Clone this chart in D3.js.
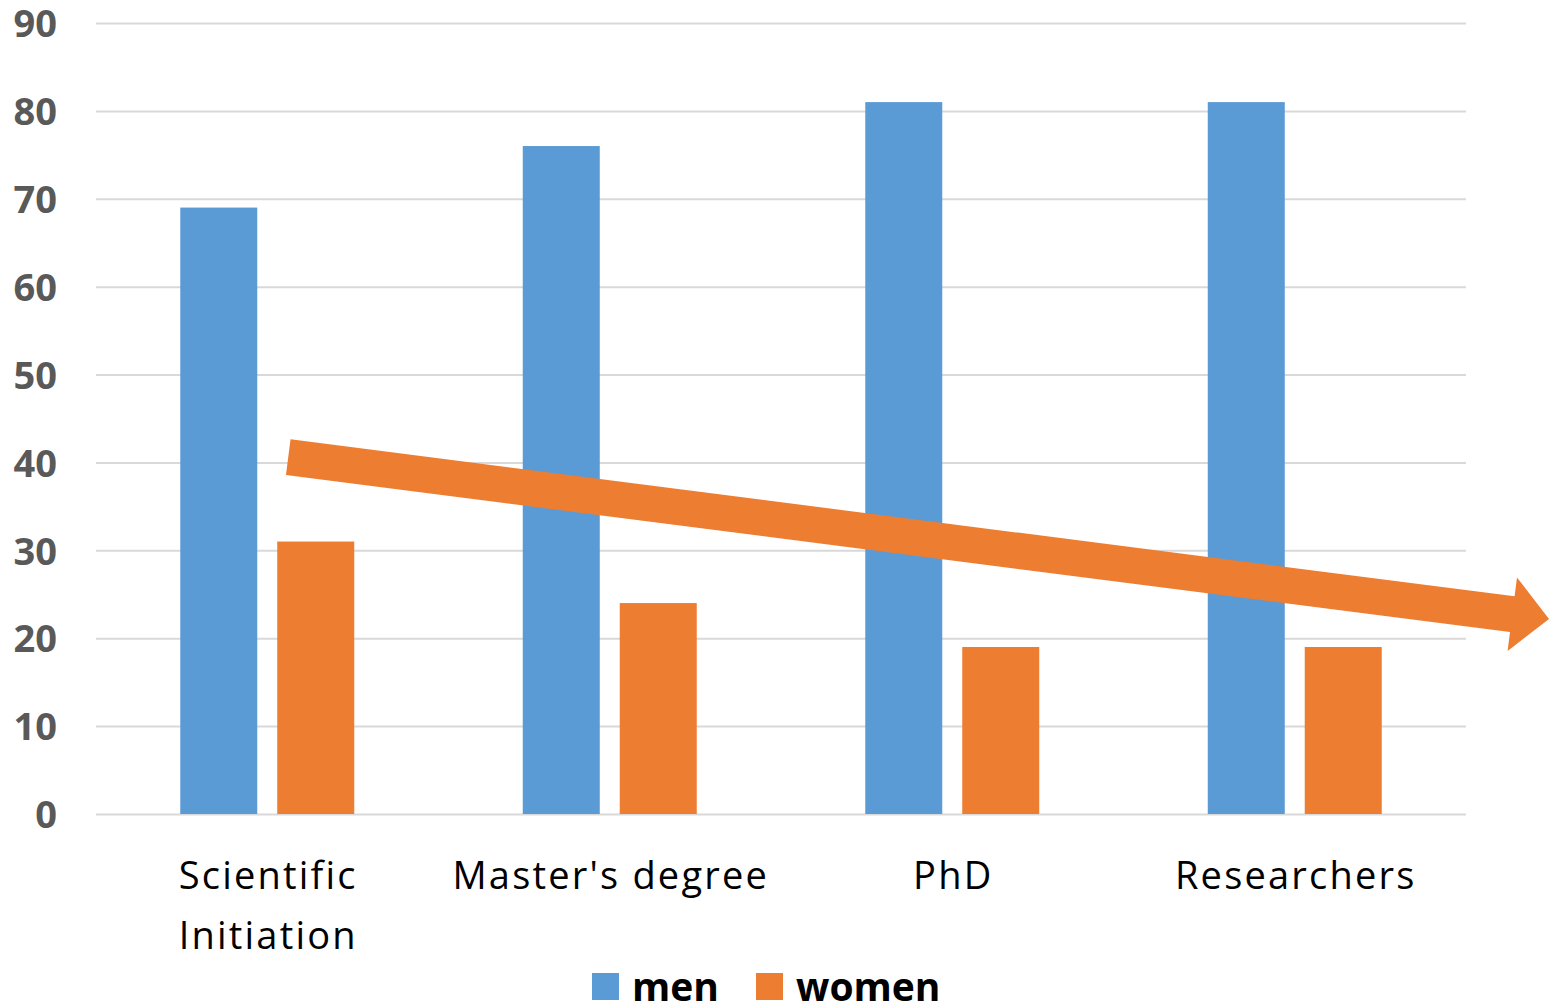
<!DOCTYPE html>
<html>
<head>
<meta charset="utf-8">
<script src="https://cdn.jsdelivr.net/npm/d3@7"></script>
<style>
  html, body { margin: 0; padding: 0; background: #fff; overflow: hidden; }
  svg { display: block; }
</style>
</head>
<body>
<svg id="chart" width="1549" height="1006"></svg>
<script>
// Share of men and women at each academic stage (%)
const categories = ["Scientific Initiation", "Master's degree", "PhD", "Researchers"];
const categoryLines = [["Scientific", "Initiation"], ["Master's degree"], ["PhD"], ["Researchers"]];
const seriesNames = ["men", "women"];
const menValues = [69, 76, 81, 81];
const womenValues = [31, 24, 19, 19];
const yTicks = [0, 10, 20, 30, 40, 50, 60, 70, 80, 90];
const titleText = "Distribution by gender (%)";
// Trend arrow endpoints, in axis units (start and end of the arrow's centre line)
const trendStart = { value: 40.6 };
const trendEnd = { value: 22.2 };

const colors = { men: "#5B9BD5", women: "#ED7D31" };
const W = 1549, H = 1006;
const plot = { left: 96, right: 1466, top: 23, bottom: 814 };

const svg = d3.select("#chart");

const x = d3.scaleBand().domain(categories).range([plot.left, plot.right]).paddingInner(0.492).paddingOuter(0.246);
const xs = d3.scaleBand().domain(seriesNames).range([0, x.bandwidth()]).paddingInner(0.206);
const y = d3.scaleLinear().domain([0, 90]).range([plot.bottom, plot.top]);

// Title (mostly above the visible area)
svg.append("text")
  .attr("x", 1067).attr("y", -9)
  .attr("text-anchor", "end")
  .attr("font-family", "Open Sans, sans-serif")
  .attr("font-weight", "bold")
  .attr("font-size", 40)
  .attr("fill", "#000")
  .text(titleText);

// Gridlines and value axis
const yAxis = d3.axisLeft(y).tickValues(yTicks).tickSize(-(plot.right - plot.left)).tickPadding(39);
const yg = svg.append("g").attr("transform", `translate(${plot.left},0)`).call(yAxis);
yg.select(".domain").remove();
yg.selectAll(".tick line").attr("stroke", "#d9d9d9").attr("stroke-width", 2);
yg.selectAll(".tick text")
  .attr("font-family", "Open Sans, sans-serif")
  .attr("font-weight", "bold")
  .attr("font-size", 38)
  .attr("fill", "#595959")
  .attr("dy", "0.36em");

// Bars
const rows = categories.map((c, i) => ({ category: c, men: menValues[i], women: womenValues[i] }));
const groups = svg.append("g").selectAll("g").data(rows).join("g")
  .attr("transform", d => `translate(${x(d.category)},0)`);
groups.selectAll("rect")
  .data(d => seriesNames.map(s => ({ series: s, value: d[s] })))
  .join("rect")
  .attr("x", d => xs(d.series))
  .attr("width", xs.bandwidth())
  .attr("y", d => y(d.value))
  .attr("height", d => y(0) - y(d.value))
  .attr("fill", d => colors[d.series]);

// Category labels
const xl = svg.append("g");
categories.forEach((c, i) => {
  const cx = x(c) + x.bandwidth() / 2;
  const t = xl.append("text")
    .attr("x", cx)
    .attr("y", 889)
    .attr("text-anchor", "middle")
    .attr("font-family", "Open Sans, sans-serif")
    .attr("font-size", 38)
    .attr("letter-spacing", 2.2)
    .attr("fill", "#000");
  categoryLines[i].forEach((line, j) => {
    t.append("tspan").attr("x", cx + 1).attr("dy", j === 0 ? 0 : 60).text(line);
  });
});

// Downward trend arrow
const x0 = x(categories[0]) + x.bandwidth() / 2 + 21;
const x1 = W;
const p0 = [x0, y(trendStart.value)];
const p1 = [x1, y(trendEnd.value)];
const len = Math.hypot(p1[0] - p0[0], p1[1] - p0[1]);
const ang = Math.atan2(p1[1] - p0[1], p1[0] - p0[0]) * 180 / Math.PI;
const shaft = 18, head = 37, headLen = 37;
const arrowPts = [[0, -shaft], [len - headLen, -shaft], [len - headLen, -head], [len, 0],
                  [len - headLen, head], [len - headLen, shaft], [0, shaft]];
svg.append("polygon")
  .attr("points", arrowPts.map(p => p.join(",")).join(" "))
  .attr("transform", `translate(${p0[0]},${p0[1]}) rotate(${ang})`)
  .attr("fill", colors.women);

// Legend
const legend = svg.append("g");
const legendItems = [{ name: "men", x: 592, tx: 632 }, { name: "women", x: 756, tx: 796 }];
legendItems.forEach(it => {
  legend.append("rect").attr("x", it.x).attr("y", 973).attr("width", 27).attr("height", 27).attr("fill", colors[it.name]);
  legend.append("text")
    .attr("x", it.tx).attr("y", 1001)
    .attr("font-family", "Open Sans, sans-serif")
    .attr("font-weight", "bold")
    .attr("font-size", 39)
    .attr("fill", "#000")
    .text(it.name);
});
</script>
</body>
</html>
